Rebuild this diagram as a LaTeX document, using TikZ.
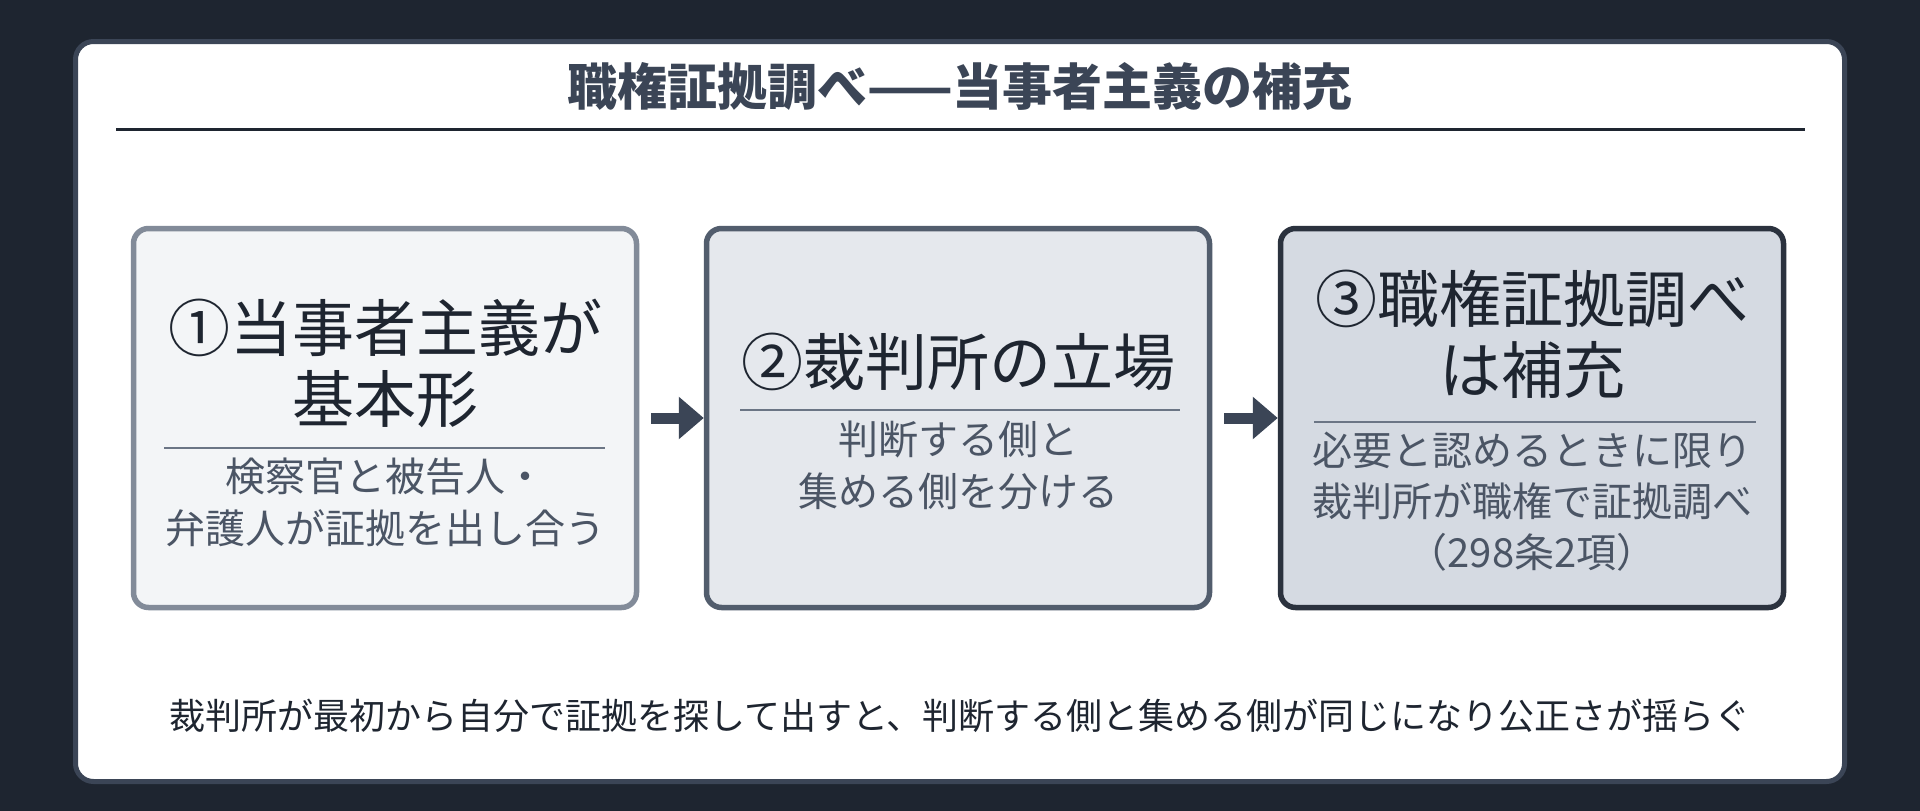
\documentclass[tikz,border=0pt]{standalone}
\usepackage{fontspec}
\setmainfont{Noto Sans CJK JP}
\usetikzlibrary{positioning, arrows.meta}
\definecolor{bgdark}{HTML}{1E2530}
\definecolor{slate}{HTML}{3B4556}
\definecolor{ink}{HTML}{1E2530}
\definecolor{subink}{HTML}{4B5565}
\definecolor{rulegray}{HTML}{6B7585}
\definecolor{fillA}{HTML}{F3F5F7}
\definecolor{lineA}{HTML}{828B99}
\definecolor{fillB}{HTML}{E5E8ED}
\definecolor{lineB}{HTML}{525D6D}
\definecolor{fillC}{HTML}{D5DAE2}
\definecolor{lineC}{HTML}{2B323E}

\begin{document}
\begin{tikzpicture}[
    x=1pt, y=-1pt,
    % Styles
    panel/.style={% For the white sheet
        rectangle,
        rounded corners=18pt,
        draw=slate,
        fill=white,
        line width=5pt,
        },
    card/.style={% For the three steps
        rectangle,
        rounded corners=15pt,
        line width=5.5pt,
        minimum width=503pt,
        minimum height=379pt,
        },
    heading/.style={% For the step titles
        align=center,
        text=ink,
        font=\fontsize{62}{71}\selectfont,
        },
    detail/.style={% For the small text under the rule
        align=center,
        text=subink,
        font=\fontsize{40}{52}\selectfont,
        },
    divider/.style={% Thin rule inside a card
        draw=rulegray,
        line width=2.5pt,
        },
    flow/.style={% Arrows between the cards
        draw=slate,
        line width=11pt,
        -{Triangle[length=25pt,width=41pt]},
        },
    ]

    % Background
    \fill[bgdark] (0,0) rectangle (1920,811);
    \useasboundingbox (0,0) rectangle (1920,811);
    \draw[panel] (75.5,41.5) rectangle (1844.5,781.5);

    % Title
    \node[text=slate, font=\fontsize{50}{60}\selectfont\bfseries] (title) at (960,86) {職権証拠調べ——当事者主義の補充};
    \draw[draw=ink, line width=3pt] (116,129) -- (1805,129);

    % Draw the cards
    \node[card, fill=fillA, draw=lineA] (card1) at (385,418) {};
    \node[card, fill=fillB, draw=lineB] (card2) at (958,418) {};
    \node[card, fill=fillC, draw=lineC] (card3) at (1532,418) {};

    % Card 1
    \node[heading] (head1) at (385,363) {①当事者主義が\\基本形};
    \draw[divider] (164,448) -- (605,448);
    \node[detail] (text1) at (385,502) {検察官と被告人・\\弁護人が証拠を出し合う};

    % Card 2
    \node[heading] (head2) at (958,362) {②裁判所の立場};
    \draw[divider] (740,410) -- (1180,410);
    \node[detail] (text2) at (958,465) {判断する側と\\集める側を分ける};

    % Card 3
    \node[heading] (head3) at (1532,334) {③職権証拠調べ\\は補充};
    \draw[divider] (1314,422) -- (1756,422);
    \node[detail, font=\fontsize{40}{51}\selectfont] (text3) at (1532,502) {必要と認めるときに限り\\裁判所が職権で証拠調べ\\（298条2項）};

    % Arrows
    \draw[flow] ([xshift=12pt]card1.east) -- (card2.west);
    \draw[flow] ([xshift=12pt]card2.east) -- (card3.west);

    % Footnote
    \node[text=ink, font=\fontsize{36}{44}\selectfont] (note) at (960,716) {裁判所が最初から自分で証拠を探して出すと、判断する側と集める側が同じになり公正さが揺らぐ};

\end{tikzpicture}
\end{document}
